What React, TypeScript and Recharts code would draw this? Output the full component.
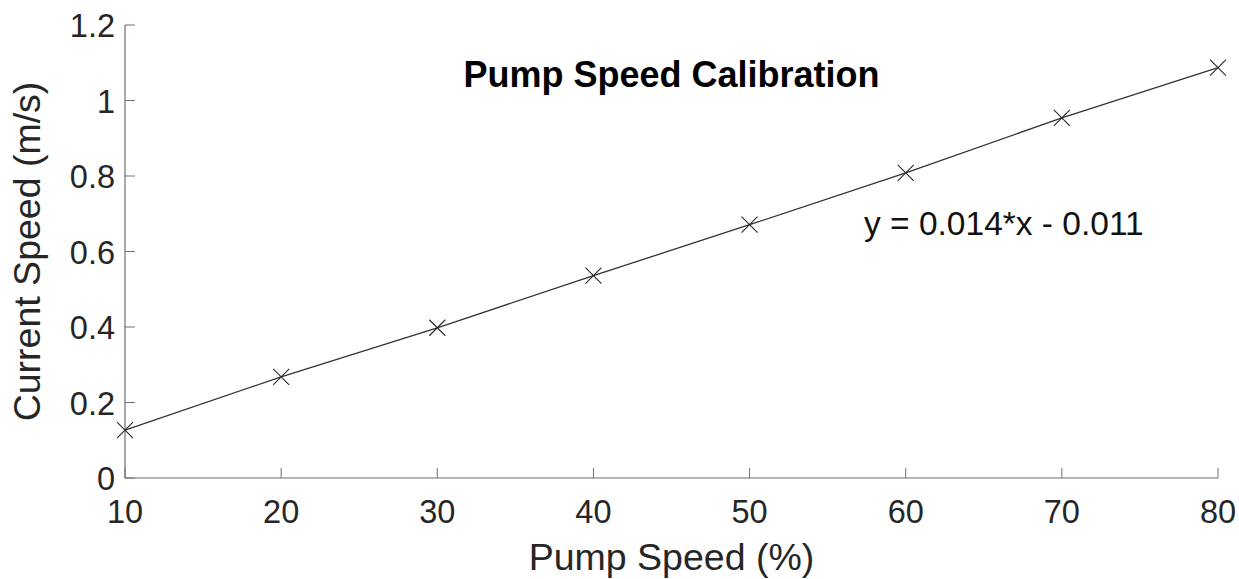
import React from 'react';
import { LineChart, Line, XAxis, YAxis } from 'recharts';

// pump setting (%) and measured current speed (m/s)
const pumpSpeed = [10, 20, 30, 40, 50, 60, 70, 80];
const currentSpeed = [0.127, 0.268, 0.398, 0.536, 0.671, 0.808, 0.954, 1.087];

const xTicks = [10, 20, 30, 40, 50, 60, 70, 80];
const yTicks = [0, 0.2, 0.4, 0.6, 0.8, 1, 1.2];

const chartTitle = 'Pump Speed Calibration';
const fitText = 'y = 0.014*x - 0.011';

const data = pumpSpeed.map((x, i) => ({ x, y: currentSpeed[i] }));

const W = 1239;
const H = 579;
const AXIS = '#6e6e6e';
const TEXT = '#262626';
const FONT = '"Liberation Sans", Arial, Helvetica, sans-serif';
const TICK_LEN = 10;
const TICK_FONT = 32.5;
const LABEL_FONT = 37.5;

const BottomTick = ({ x, y, payload }: any) => (
  <g>
    <line x1={x} x2={x} y1={y - 22} y2={y - 22 - TICK_LEN} stroke={AXIS} strokeWidth={1} />
    <text x={x} y={y} dy="0.71em" textAnchor="middle" fontSize={TICK_FONT} fill={TEXT} fontFamily={FONT}>
      {payload.value}
    </text>
  </g>
);

const LeftTick = ({ x, y, payload }: any) => (
  <g>
    <line x1={x + 10} x2={x + 10 + TICK_LEN} y1={y} y2={y} stroke={AXIS} strokeWidth={1} />
    <text x={x} y={y} dy="0.38em" textAnchor="end" fontSize={TICK_FONT} fill={TEXT} fontFamily={FONT}>
      {String(payload.value)}
    </text>
  </g>
);

const TopTick = ({ x, y }: any) => (
  <line x1={x} x2={x} y1={y} y2={y + TICK_LEN} stroke={AXIS} strokeWidth={1} />
);

const RightTick = ({ x, y }: any) => (
  <line x1={x} x2={x - TICK_LEN} y1={y} y2={y} stroke={AXIS} strokeWidth={1} />
);

const CrossDot = (props: any) => {
  const { cx, cy, index } = props;
  const s = 8;
  return (
    <path
      key={`dot-${index}`}
      d={`M${cx - s},${cy - s}L${cx + s},${cy + s}M${cx - s},${cy + s}L${cx + s},${cy - s}`}
      stroke="#2a2a2a"
      strokeWidth={1.1}
      fill="none"
    />
  );
};

const XLabel = ({ viewBox }: any) => (
  <text
    x={viewBox.x + viewBox.width / 2}
    y={570}
    textAnchor="middle"
    fontSize={LABEL_FONT}
    fill={TEXT}
    fontFamily={FONT}
  >
    Pump Speed (%)
  </text>
);

const YLabel = ({ viewBox }: any) => {
  const cy = viewBox.y + viewBox.height / 2;
  return (
    <text
      x={40}
      y={cy}
      transform={`rotate(-90, 40, ${cy})`}
      textAnchor="middle"
      fontSize={LABEL_FONT}
      fill={TEXT}
      fontFamily={FONT}
    >
      Current Speed (m/s)
    </text>
  );
};

export default function App() {
  return (
    <div style={{ position: 'absolute', left: 0, top: 0, width: W, height: H, background: '#fff' }}>
      <LineChart width={W} height={H} data={data} margin={{ top: 25, right: 21, bottom: 0, left: 0 }}>
        <XAxis
          dataKey="x"
          type="number"
          domain={[10, 80]}
          ticks={xTicks}
          interval={0}
          height={101}
          tickSize={0}
          tickMargin={22}
          tickLine={false}
          axisLine={{ stroke: AXIS, strokeWidth: 1.2 }}
          tick={<BottomTick />}
          label={{ content: <XLabel /> } as any}
        />
        <XAxis
          xAxisId="top"
          orientation="top"
          dataKey="x"
          type="number"
          domain={[10, 80]}
          ticks={xTicks}
          interval={0}
          height={0}
          tickSize={0}
          tickMargin={0}
          tickLine={false}
          axisLine={{ stroke: AXIS, strokeWidth: 1.2 }}
          tick={<TopTick />}
        />
        <YAxis
          type="number"
          domain={[0, 1.2]}
          ticks={yTicks}
          interval={0}
          width={125}
          tickSize={0}
          tickMargin={10}
          tickLine={false}
          axisLine={{ stroke: AXIS, strokeWidth: 1.2 }}
          tick={<LeftTick />}
          label={{ content: <YLabel /> } as any}
        />
        <YAxis
          yAxisId="right"
          orientation="right"
          type="number"
          domain={[0, 1.2]}
          ticks={yTicks}
          interval={0}
          width={0}
          tickSize={0}
          tickMargin={0}
          tickLine={false}
          axisLine={{ stroke: '#333', strokeWidth: 1.2 }}
          tick={<RightTick />}
        />
        <Line
          dataKey="y"
          stroke="#333"
          strokeWidth={1.3}
          dot={CrossDot}
          activeDot={false}
          isAnimationActive={false}
        />
      </LineChart>
      <svg
        width={W}
        height={H}
        style={{ position: 'absolute', left: 0, top: 0, pointerEvents: 'none' }}
      >
        <text x={671.5} y={87} textAnchor="middle" fontSize={36} fontWeight="bold" fill="#000" fontFamily={FONT}>
          {chartTitle}
        </text>
        <text x={864} y={235} fontSize={33.5} fill="#111" fontFamily={FONT}>
          {fitText}
        </text>
      </svg>
    </div>
  );
}
